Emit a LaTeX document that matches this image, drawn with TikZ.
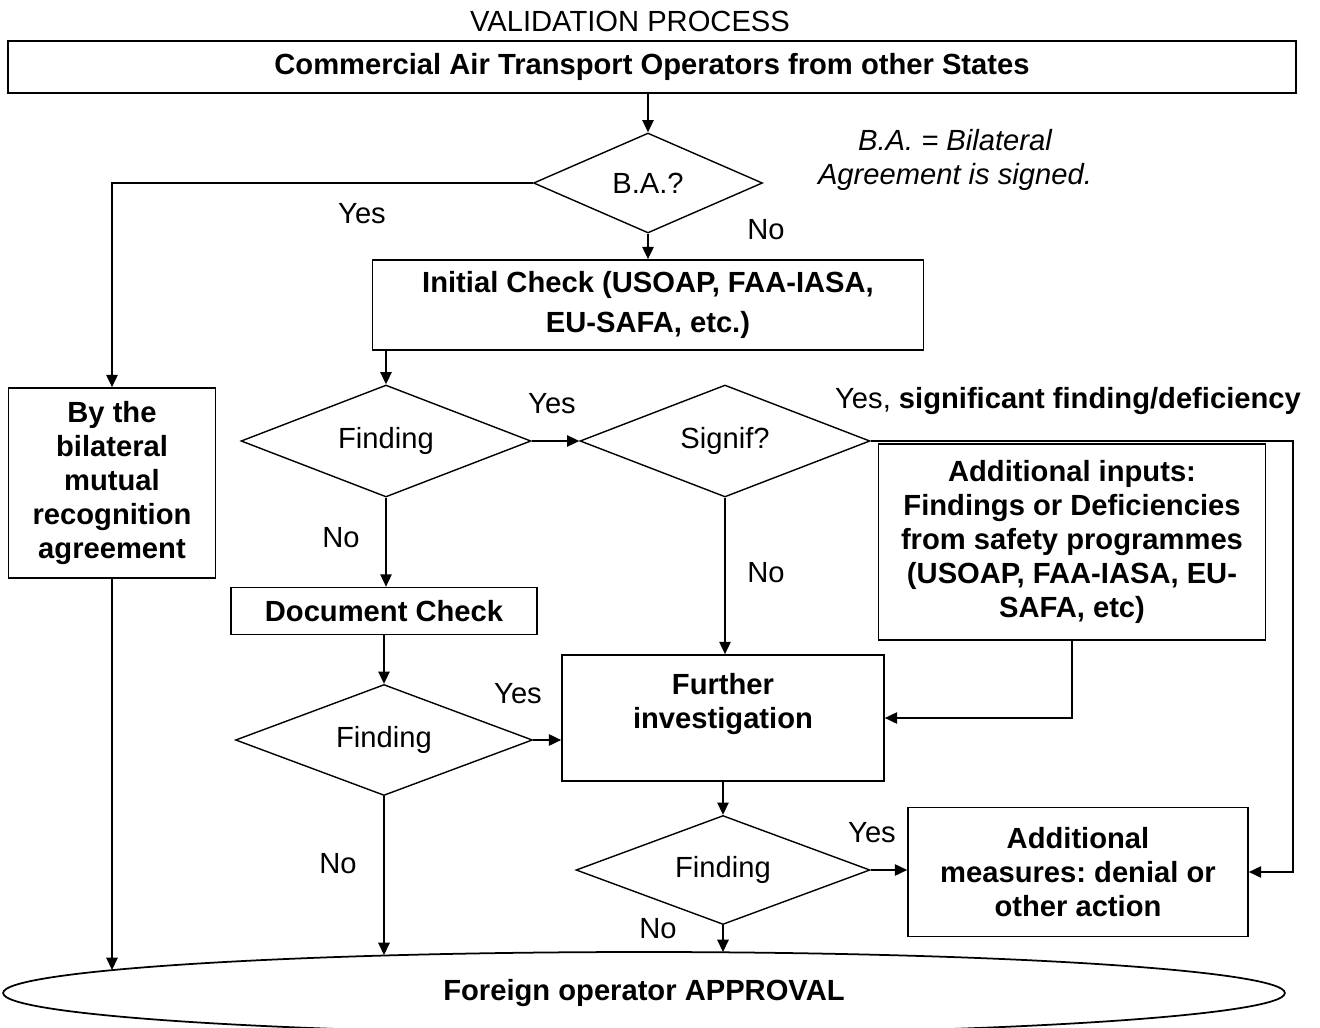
\documentclass[tikz,border=0pt]{standalone}
\usepackage{fontspec}
\setmainfont{Liberation Sans}
\usetikzlibrary{shapes.geometric,arrows.meta}
\begin{document}
\frenchspacing
\begin{tikzpicture}[x=0.02cm,y=-0.02cm,
  font=\fontsize{16.6}{19.3}\selectfont,
  box/.style={draw, line width=1pt, align=center, inner sep=0pt, font=\fontsize{16.6}{19.3}\selectfont\bfseries},
  btext/.style={align=center, inner sep=0pt, font=\fontsize{16.6}{19.3}\selectfont\bfseries},
  dec/.style={draw, diamond, aspect=2.5, line width=0.8pt, inner sep=0pt},
  conn/.style={line width=0.8pt, -{Triangle[length=7pt,width=6.5pt]}},
  lbl/.style={inner sep=0pt}]
\useasboundingbox (0,0) rectangle (1320,1028);
\clip (0,0) rectangle (1320,1028);
% nodes
\node[lbl] (title) at (630,21) {VALIDATION PROCESS};
\node[box, minimum width=25.76cm, minimum height=1.04cm] (top) at (652,67) {Commercial Air Transport Operators from other States};
\node[dec, minimum width=4.58cm, minimum height=2cm] (ba) at (648,183) {B.A.?};
\node[lbl, align=center, font=\fontsize{16.6}{19.3}\selectfont\itshape] (note) at (955,160) {B.A. = Bilateral\\Agreement is signed.};
\node[box, minimum width=11.02cm, minimum height=1.8cm] (init) at (648,305) {Initial Check (USOAP, FAA-IASA,\\[3pt]EU-SAFA, etc.)};
\node[box, minimum width=4.14cm, minimum height=3.8cm] (bil) at (112,483) {By the\\bilateral\\mutual\\recognition\\agreement};
\node[dec, minimum width=5.8cm, minimum height=2.24cm] (f1) at (386,441) {Finding};
\node[dec, minimum width=5.8cm, minimum height=2.24cm] (sig) at (725,441) {Signif?};
\node[box, minimum width=7.74cm, minimum height=3.92cm] (addin) at (1072,542) {Additional inputs:\\Findings or Deficiencies\\from safety programmes\\(USOAP, FAA-IASA, EU-\\SAFA, etc)};
\node[box, minimum width=6.12cm, minimum height=0.94cm] (doc) at (384,611) {Document Check};
\node[dec, minimum width=5.94cm, minimum height=2.22cm] (f2) at (384,740) {Finding};
\node[box, minimum width=6.44cm, minimum height=2.52cm] (fur) at (723,718) {};
\node[btext] (furtxt) at (723,704) {Further\\investigation};
\node[dec, minimum width=5.88cm, minimum height=2.18cm] (f3) at (723,870) {Finding};
\node[box, minimum width=6.8cm, minimum height=2.58cm] (meas) at (1078,872) {Additional\\measures: denial or\\other action};
\node[draw, ellipse, line width=1pt, inner sep=0pt, minimum width=25.64cm, minimum height=1.64cm, font=\fontsize{16.6}{19.3}\selectfont\bfseries] (appr) at (644,993) {Foreign operator APPROVAL};
% coordinates
\coordinate (rt) at (1293,441);
\coordinate (e1) at (112,970);
\coordinate (e2) at (384,955);
\coordinate (e3) at (723,952);
% connectors
\draw[conn] (ba.north |- top.south) -- (ba.north);
\draw[conn] (ba.west) -| (bil.north);
\draw[conn] (ba.south) -- (ba.south |- init.north);
\draw[conn] (f1.north |- init.south) -- (f1.north);
\draw[conn] (f1.east) -- (sig.west);
\draw[conn] (sig.east) -- (rt) |- (meas.east);
\draw[conn] (sig.south) -- (sig.south |- fur.north);
\draw[conn] (addin.south) |- (fur.east);
\draw[conn] (bil.south) -- (e1);
\draw[conn] (f1.south) -- (f1.south |- doc.north);
\draw[conn] (doc.south) -- (f2.north);
\draw[conn] (f2.east) -- (f2.east -| fur.west);
\draw[conn] (f2.south) -- (e2);
\draw[conn] (fur.south) -- (f3.north);
\draw[conn] (f3.east) -- (f3.east -| meas.west);
\draw[conn] (f3.south) -- (e3);
% labels
\node[lbl] (y1) at (362,214) {Yes};
\node[lbl] (n1) at (766,230) {No};
\node[lbl] (y2) at (552,404) {Yes};
\node[lbl] (y3) at (1068,401) {Yes, \textbf{significant finding/deficiency}};
\node[lbl] (n2) at (341,538) {No};
\node[lbl] (n3) at (766,573) {No};
\node[lbl] (y4) at (518,694) {Yes};
\node[lbl] (n4) at (338,864) {No};
\node[lbl] (y5) at (872,833) {Yes};
\node[lbl] (n5) at (658,929) {No};
\end{tikzpicture}
\end{document}
